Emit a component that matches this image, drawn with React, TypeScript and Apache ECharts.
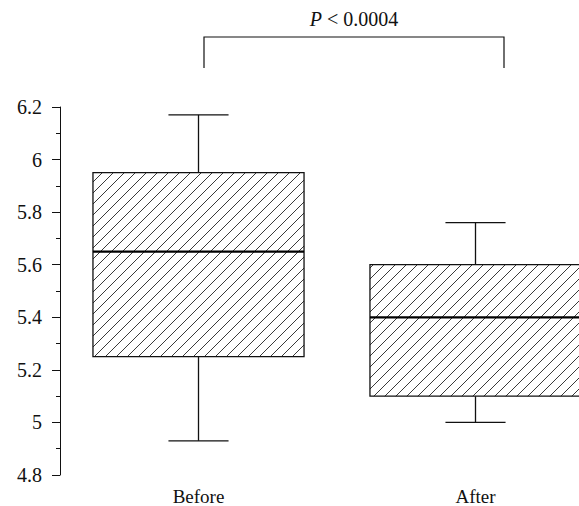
import React, { useEffect, useRef } from "react";
import * as echarts from "echarts";

const categories = ["Before", "After"];
// [min, Q1, median, Q3, max]
const boxValues = [
  [4.93, 5.25, 5.65, 5.95, 6.17],
  [5.0, 5.1, 5.4, 5.6, 5.76],
];
const yMin = 4.8;
const yMax = 6.2;
const yInterval = 0.2;
const annotationText = "P < 0.0004";

const FONT = "'Liberation Serif', 'DejaVu Serif', serif";

function makeHatch(): string {
  const s = 11;
  const c = document.createElement("canvas");
  c.width = s;
  c.height = s;
  const ctx = c.getContext("2d")!;
  ctx.fillStyle = "#ffffff";
  ctx.fillRect(0, 0, s, s);
  ctx.strokeStyle = "#3a3a3a";
  ctx.lineWidth = 1;
  ctx.beginPath();
  ctx.moveTo(-1, s + 1);
  ctx.lineTo(s + 1, -1);
  ctx.moveTo(-1, 1);
  ctx.lineTo(1, -1);
  ctx.moveTo(s - 1, s + 1);
  ctx.lineTo(s + 1, s - 1);
  ctx.stroke();
  return c.toDataURL();
}

export default function App() {
  const ref = useRef<HTMLDivElement>(null);
  useEffect(() => {
    document.body.style.margin = "0";
    const chart = echarts.init(ref.current!, null, { renderer: "svg" });
    const hatch = makeHatch();
    const data = boxValues.map((v, i) => [i, ...v]);
    chart.setOption({
      animation: false,
      backgroundColor: "#ffffff",
      grid: { left: 60, top: 107, right: -35, bottom: 31, outerBoundsMode: "none", containLabel: false },
      xAxis: {
        type: "category",
        data: categories,
        axisLine: { show: false },
        axisTick: { show: false },
        axisLabel: { color: "#111", fontFamily: FONT, fontSize: 19, lineHeight: 19, margin: 12 },
      },
      yAxis: {
        type: "value",
        min: yMin,
        max: yMax,
        interval: yInterval,
        splitLine: { show: false },
        axisLine: { show: true, lineStyle: { color: "#111", width: 1 } },
        axisTick: { show: true, length: 8, lineStyle: { color: "#111" } },
        minorTick: { show: true, splitNumber: 2, length: 4, lineStyle: { color: "#111" } },
        axisLabel: { color: "#111", fontFamily: FONT, fontSize: 20, margin: 18 },
      },
      series: [
        {
          type: "custom",
          data,
          clip: false,
          encode: { x: 0, y: [1, 2, 3, 4, 5] },
          renderItem: (params: any, api: any) => {
            const x = api.value(0);
            const lo = api.coord([x, api.value(1)]);
            const q1 = api.coord([x, api.value(2)]);
            const med = api.coord([x, api.value(3)]);
            const q3 = api.coord([x, api.value(4)]);
            const hi = api.coord([x, api.value(5)]);
            const band = api.size([1, 0])[0];
            const hw = (band * 0.762) / 2;
            const cw = (band * 0.217) / 2;
            const cx = lo[0];
            const stroke = { stroke: "#111", lineWidth: 1.3, fill: "none" };
            return {
              type: "group",
              children: [
                { type: "line", shape: { x1: cx, y1: hi[1], x2: cx, y2: q3[1] }, style: stroke },
                { type: "line", shape: { x1: cx - cw, y1: hi[1], x2: cx + cw, y2: hi[1] }, style: stroke },
                { type: "line", shape: { x1: cx, y1: q1[1], x2: cx, y2: lo[1] }, style: stroke },
                { type: "line", shape: { x1: cx - cw, y1: lo[1], x2: cx + cw, y2: lo[1] }, style: stroke },
                {
                  type: "rect",
                  shape: { x: cx - hw, y: q3[1], width: hw * 2, height: q1[1] - q3[1] },
                  style: {
                    fill: { image: hatch, repeat: "repeat", imageWidth: 11, imageHeight: 11 },
                    stroke: "#111",
                    lineWidth: 1.3,
                  },
                },
                { type: "line", shape: { x1: cx - hw, y1: med[1], x2: cx + hw, y2: med[1] }, style: { stroke: "#000", lineWidth: 2.2 } },
              ],
            };
          },
        },
      ],
      graphic: [
        {
          type: "polyline",
          shape: { points: [[204, 68], [204, 37], [504, 37], [504, 68]] },
          style: { stroke: "#111", lineWidth: 1.2, fill: "none" },
        },
        {
          type: "text",
          x: 354,
          y: 19,
          style: {
            text: "{i|P}" + annotationText.slice(1),
            fontFamily: FONT,
            fontSize: 20,
            fill: "#111",
            align: "center",
            verticalAlign: "middle",
            rich: { i: { fontStyle: "italic", fontFamily: FONT, fontSize: 20, fill: "#111" } },
          },
        },
      ],
    });
    return () => chart.dispose();
  }, []);
  return <div ref={ref} style={{ width: 579, height: 506 }} />;
}
